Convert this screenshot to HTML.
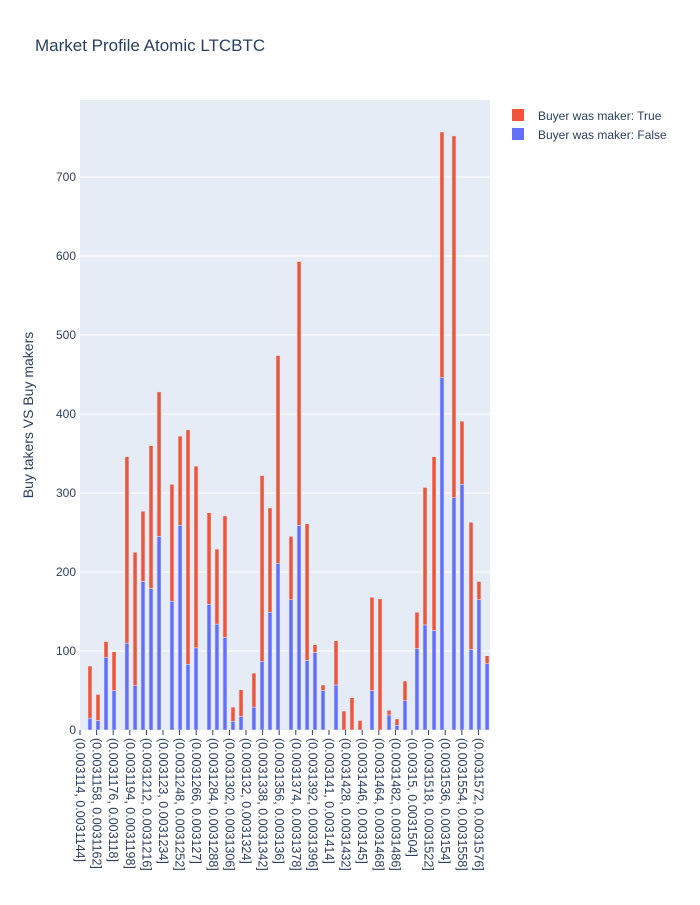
<!DOCTYPE html>
<html><head><meta charset="utf-8"><style>
body{margin:0;background:#fff;}
svg text{font-family:"Liberation Sans",Arial,sans-serif;fill:#2a3f5f;}
</style></head><body>
<svg id="chart" width="700" height="900" xmlns="http://www.w3.org/2000/svg">
<rect width="700" height="900" fill="#fff"/>
<text x="35" y="51" font-size="17">Market Profile Atomic LTCBTC</text>
<rect x="80" y="100" width="410" height="630" fill="#e5ecf6"/>
<g id="grid"></g><g id="bars"></g><g id="yticks"></g><g id="xticks"></g>
<text transform="translate(33,415) rotate(-90)" text-anchor="middle" font-size="14">Buy takers VS Buy makers</text>
<g>
<g><rect x="512" y="109" width="12" height="12" fill="#EF553B"/><text x="538" y="120" font-size="12">Buyer was maker: True</text></g>
<g><rect x="512" y="128" width="12" height="12" fill="#636efa"/><text x="538" y="139" font-size="12">Buyer was maker: False</text></g>
</g>
</svg>
<script>
// x values: price in units of 1e-6 (e.g. 3115.08 = 0.00311508)
const prices=[3115.08,3115.95,3116.82,3117.69,3119.09,3119.97,3120.83,3121.70,3122.57,3123.97,3124.85,3125.71,3126.58,3127.99,3128.85,3129.72,3130.59,3131.46,3132.86,3133.74,3134.60,3135.47,3136.88,3137.75,3138.62,3139.48,3140.35,3141.76,3142.62,3143.49,3144.36,3145.66,3146.53,3147.51,3148.37,3149.24,3150.54,3151.41,3152.39,3153.25,3154.55,3155.42,3156.40,3157.26,3158.14];
const buyerMakerFalse=[15,12,92,50,110,56,188,179,245,163,259,83,104,159,134,117,11,17,29,87,149,211,165,259,88,98,50,57,0,0,0,50,0,19,6,37,103,133,126,446,294,311,102,165,84];
const buyerMakerTrue=[66,33,20,49,236,169,89,181,183,148,113,297,230,116,95,154,18,34,43,235,132,263,80,334,173,10,7,56,24,41,12,118,166,6,8,25,46,174,220,311,458,80,161,23,10];
const yTicks=[0,100,200,300,400,500,600,700];
const xTickLabels=["(0.003114, 0.0031144]","(0.0031158, 0.0031162]","(0.0031176, 0.003118]","(0.0031194, 0.0031198]","(0.0031212, 0.0031216]","(0.003123, 0.0031234]","(0.0031248, 0.0031252]","(0.0031266, 0.003127]","(0.0031284, 0.0031288]","(0.0031302, 0.0031306]","(0.003132, 0.0031324]","(0.0031338, 0.0031342]","(0.0031356, 0.003136]","(0.0031374, 0.0031378]","(0.0031392, 0.0031396]","(0.003141, 0.0031414]","(0.0031428, 0.0031432]","(0.0031446, 0.003145]","(0.0031464, 0.0031468]","(0.0031482, 0.0031486]","(0.00315, 0.0031504]","(0.0031518, 0.0031522]","(0.0031536, 0.003154]","(0.0031554, 0.0031558]","(0.0031572, 0.0031576]"];
const xTickPrices=[3114,3115.8,3117.6,3119.4,3121.2,3123,3124.8,3126.6,3128.4,3130.2,3132,3133.8,3135.6,3137.4,3139.2,3141,3142.8,3144.6,3146.4,3148.2,3150,3151.8,3153.6,3155.4,3157.2];

const NS="http://www.w3.org/2000/svg";
const X=p=>80+(p-3114)/1.8*16.6;
const Y=v=>730-v*0.79;
function mk(tag,attrs,parent){const e=document.createElementNS(NS,tag);for(const k in attrs)e.setAttribute(k,attrs[k]);parent.appendChild(e);return e;}
const grid=document.getElementById('grid'),bars=document.getElementById('bars'),yt=document.getElementById('yticks'),xt=document.getElementById('xticks');
yTicks.forEach(v=>{
  if(v>0){const l=mk('line',{x1:80,x2:490,y1:Y(v),y2:Y(v),stroke:'#fff','stroke-width':1},grid);
  
  }
  const t=mk('text',{x:76,y:Y(v)+4,'text-anchor':'end','font-size':12},yt);t.textContent=v;
  
  
});
prices.forEach((p,i)=>{
  const cx=X(p),w=4;
  const f=buyerMakerFalse[i],tr=buyerMakerTrue[i];
  const b=mk('rect',{x:cx-w/2,y:Y(f),width:w,height:Y(0)-Y(f),fill:'#636efa',stroke:'#e5ecf6','stroke-width':0.5},bars);
  
  
  const r=mk('rect',{x:cx-w/2,y:Y(f+tr),width:w,height:Y(f)-Y(f+tr),fill:'#EF553B',stroke:'#e5ecf6','stroke-width':0.5},bars);
  
  
});
xTickLabels.forEach((s,i)=>{
  const x=X(xTickPrices[i]);
  const tk=mk('line',{x1:x,x2:x,y1:730,y2:735,stroke:'#2a3f5f','stroke-width':1},xt);
  
  
  const t=mk('text',{transform:`translate(${x-4},738) rotate(90)`,'font-size':12.5},xt);t.textContent=s;
  
  
});
</script>
</body></html>
